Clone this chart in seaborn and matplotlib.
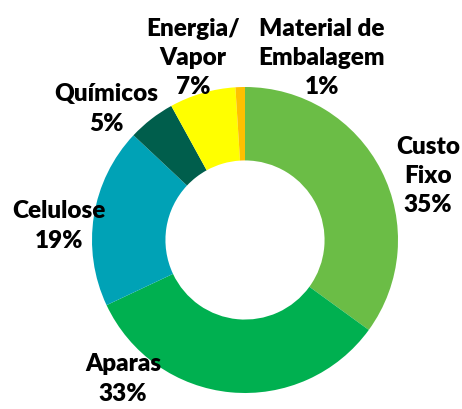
import matplotlib
matplotlib.use("Agg")
import matplotlib.pyplot as plt
import seaborn as sns

sns.set_theme(style="white")
plt.rcParams['font.family'] = ['Lato', 'DejaVu Sans']

categories = ["Custo Fixo", "Aparas", "Celulose", "Químicos", "Energia/ Vapor", "Material de Embalagem"]
values = [35, 33, 19, 5, 7, 1]
label_texts = ["Custo\nFixo\n35%", "Aparas\n33%", "Celulose\n19%", "Químicos\n5%",
               "Energia/\nVapor\n7%", "Material de\nEmbalagem\n1%"]
colors = ["#6BBD46", "#00B050", "#00A2B6", "#005E4C", "#FFFF00", "#FFC000"]

W, H = 462, 410
fig = plt.figure(figsize=(W / 100, H / 100), dpi=100)
ax = fig.add_axes([0, 0, 1, 1])

cx, cy, R = 245, H - 241, 153
ax.pie(values, colors=colors, startangle=90, counterclock=False,
       center=(cx, cy), radius=R, frame=True,
       wedgeprops=dict(width=R * 0.48, linewidth=0))
ax.set_xlim(0, W)
ax.set_ylim(0, H)
ax.set_aspect("equal")
ax.axis("off")

# label positions (center of text block), in pixel coords from top
label_pos = [(428, 176), (123, 379), (59, 226), (106, 109), (193, 58), (322, 58)]
for txt, (x, y) in zip(label_texts, label_pos):
    ax.text(x, H - y, txt, ha="center", va="center", fontsize=17.5,
            fontweight="heavy", color="black", linespacing=1.4)

fig.savefig("out.png", dpi=100)
